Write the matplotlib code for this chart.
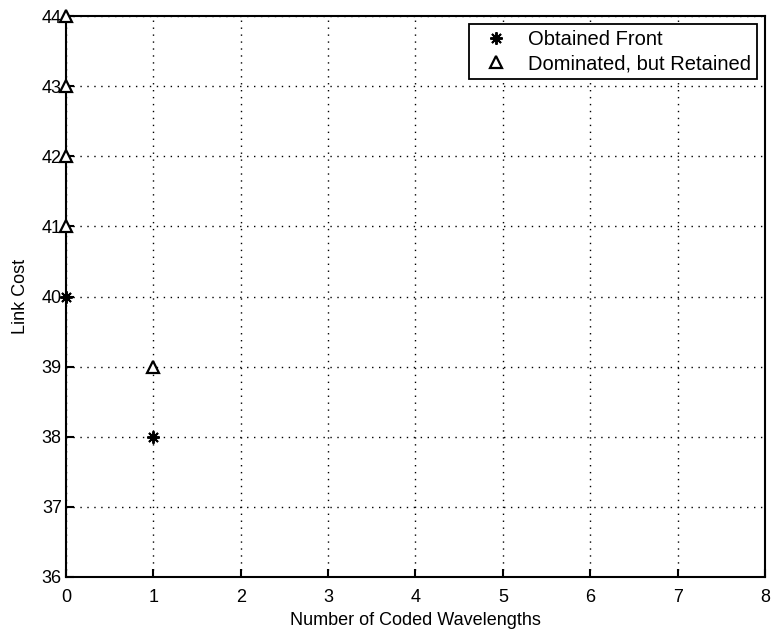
import matplotlib
matplotlib.use("Agg")
import matplotlib.pyplot as plt

plt.rcParams["font.family"] = ["Liberation Sans", "DejaVu Sans"]

# datos
front_x = [0, 1]
front_y = [40, 38]
retained_x = [0, 0, 0, 0, 1]
retained_y = [41, 42, 43, 44, 39]

xticks = [0, 1, 2, 3, 4, 5, 6, 7, 8]
yticks = [36, 37, 38, 39, 40, 41, 42, 43, 44]

fig = plt.figure(figsize=(7.71, 6.31), dpi=100)
ax = fig.add_axes([0.0856, 0.0856, 0.9066, 0.889])

ax.plot(front_x, front_y, linestyle="none", marker=(8, 2, 0), markersize=9,
        markeredgewidth=1.4, color="black", label="Obtained Front", clip_on=False)
ax.plot(retained_x, retained_y, linestyle="none", marker="^", markersize=9,
        markerfacecolor="white", markeredgecolor="black", markeredgewidth=1.6,
        label="Dominated, but Retained", clip_on=False, zorder=5)

ax.set_xlim(0, 8)
ax.set_ylim(36, 44)
ax.set_xticks(xticks)
ax.set_yticks(yticks)
ax.tick_params(direction="in", length=6, width=1.5, labelsize=13)
ax.tick_params(axis="x", pad=9)
ax.tick_params(axis="y", pad=3)
for s in ax.spines.values():
    s.set_linewidth(1.5)
ax.grid(True, linestyle=(0, (1, 4)), color="black", linewidth=1)
ax.set_axisbelow(True)

ax.set_xlabel("Number of Coded Wavelengths", fontsize=13, labelpad=4)
ax.set_ylabel("Link Cost", fontsize=13, labelpad=9)

leg = ax.legend(loc="upper right", fontsize=14.5, fancybox=False, framealpha=1,
                edgecolor="black", borderaxespad=0.4, handletextpad=0.6,
                labelspacing=0.25, borderpad=0.3)
leg.get_frame().set_linewidth(1.3)

fig.savefig("out.png", dpi=100)
